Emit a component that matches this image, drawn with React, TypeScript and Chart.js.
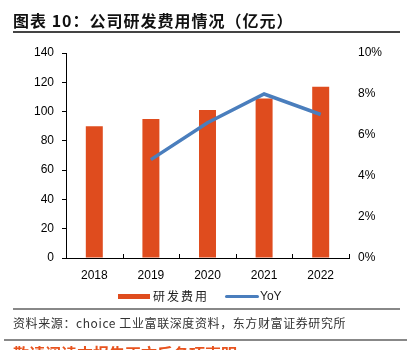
import React, { useEffect, useRef } from "react";
import { Chart, registerables } from "chart.js";

Chart.register(...registerables);

const categories = ["2018", "2019", "2020", "2021", "2022"];
const rdExpense = [90, 95, 101, 109, 117];
const yoy = [null, 4.8, 6.6, 8.0, 7.0];
const leftTicks = [0, 20, 40, 60, 80, 100, 120, 140];
const rightTicks = [0, 2, 4, 6, 8, 10];

const BAR_COLOR = "#DF4C1E";
const LINE_COLOR = "#4A7EBD";
const CJK = '"Noto Sans CJK SC", "Noto Sans", sans-serif';
const LATIN = '"Liberation Sans", Arial, sans-serif';

const innerTicks = {
  id: "innerTicks",
  afterDraw(chart: any) {
    const x = chart.scales.x;
    const ctx = chart.ctx;
    const bottom = chart.chartArea.bottom;
    ctx.save();
    ctx.strokeStyle = "#000";
    ctx.lineWidth = 1;
    for (let i = 0; i <= categories.length; i++) {
      const px = Math.round(x.getPixelForValue(i - 0.5)) + 0.5;
      ctx.beginPath();
      ctx.moveTo(px, bottom);
      ctx.lineTo(px, bottom - 4);
      ctx.stroke();
    }
    ctx.restore();
  },
};

export default function App() {
  const ref = useRef<HTMLCanvasElement>(null);
  useEffect(() => {
    if (!ref.current) return;
    const chart = new Chart(ref.current, {
      type: "bar",
      data: {
        labels: categories,
        datasets: [
          {
            type: "line",
            label: "YoY",
            data: yoy as any,
            yAxisID: "y1",
            borderColor: LINE_COLOR,
            backgroundColor: LINE_COLOR,
            borderWidth: 3.5,
            pointRadius: 0,
            tension: 0,
            order: 0,
          } as any,
          {
            type: "bar",
            label: "研发费用",
            data: rdExpense,
            yAxisID: "y",
            backgroundColor: BAR_COLOR,
            categoryPercentage: 1,
            barPercentage: 0.3,
            order: 1,
          },
        ],
      },
      plugins: [innerTicks],
      options: {
        responsive: false,
        animation: false,
        layout: { padding: { top: 53, left: 0, right: 0, bottom: 0 } },
        plugins: { legend: { display: false }, tooltip: { enabled: false } },
        scales: {
          x: {
            grid: { display: false, drawTicks: false },
            border: { display: true, color: "#000", width: 1 },
            ticks: {
              color: "#000",
              font: { family: LATIN, size: 12 },
              padding: 10,
              maxRotation: 0,
            },
            afterFit(s: any) {
              s.height = 92;
            },
          },
          y: {
            position: "left",
            min: 0,
            max: 140,
            afterBuildTicks(s: any) {
              s.ticks = leftTicks.map((v) => ({ value: v }));
            },
            grid: {
              display: true,
              drawOnChartArea: false,
              drawTicks: true,
              tickLength: 4,
              color: "#000",
            },
            border: { display: true, color: "#000", width: 1 },
            ticks: {
              color: "#000",
              font: { family: LATIN, size: 12 },
              padding: 8,
            },
            afterFit(s: any) {
              s.width = 66;
            },
          },
          y1: {
            position: "right",
            min: 0,
            max: 10,
            afterBuildTicks(s: any) {
              s.ticks = rightTicks.map((v) => ({ value: v }));
            },
            grid: { display: false, drawTicks: false },
            border: { display: false },
            ticks: {
              color: "#000",
              font: { family: LATIN, size: 12 },
              padding: 9,
              callback: (v: any) => v + "%",
            },
            afterFit(s: any) {
              s.width = 58;
            },
          },
        },
      },
    });
    return () => chart.destroy();
  }, []);

  return (
    <div
      style={{
        position: "absolute",
        left: 0,
        top: 0,
        width: 407,
        height: 350,
        overflow: "hidden",
        background: "#fff",
      }}
    >
      <canvas
        ref={ref}
        width={407}
        height={350}
        style={{ position: "absolute", left: 0, top: 0, width: 407, height: 350 }}
      />
      <div
        style={{
          position: "absolute",
          left: 13,
          top: 9,
          fontFamily: CJK,
          fontSize: 16,
          fontWeight: 700,
          letterSpacing: 1,
          color: "#111",
          whiteSpace: "nowrap",
          lineHeight: "22px",
        }}
      >
        图表 10：公司研发费用情况（亿元）
      </div>
      <div
        style={{
          position: "absolute",
          left: 13,
          top: 31,
          width: 387,
          height: 2,
          background: "#444",
        }}
      />
      {/* legend */}
      <div
        style={{
          position: "absolute",
          left: 118,
          top: 294,
          width: 32,
          height: 5,
          background: BAR_COLOR,
        }}
      />
      <div
        style={{
          position: "absolute",
          left: 153,
          top: 287,
          fontFamily: CJK,
          fontSize: 12,
          letterSpacing: 2,
          color: "#222",
          lineHeight: "18px",
          whiteSpace: "nowrap",
        }}
      >
        研发费用
      </div>
      <div
        style={{
          position: "absolute",
          left: 225,
          top: 295,
          width: 34,
          height: 3,
          borderRadius: 1.5,
          background: LINE_COLOR,
        }}
      />
      <div
        style={{
          position: "absolute",
          left: 260,
          top: 287,
          fontFamily: LATIN,
          fontSize: 12,
          color: "#222",
          lineHeight: "18px",
          whiteSpace: "nowrap",
        }}
      >
        YoY
      </div>
      <div
        style={{
          position: "absolute",
          left: 13,
          top: 308,
          width: 387,
          height: 2,
          background: "#888",
        }}
      />
      <div
        style={{
          position: "absolute",
          left: 13,
          top: 314,
          fontFamily: CJK,
          fontSize: 12,
          letterSpacing: 0.6,
          color: "#333",
          lineHeight: "18px",
          whiteSpace: "nowrap",
        }}
      >
        资料来源：choice 工业富联深度资料，东方财富证券研究所
      </div>
      <div
        style={{
          position: "absolute",
          left: 4,
          top: 339,
          width: 403,
          height: 2,
          background: "#888",
        }}
      />
      <div
        style={{
          position: "absolute",
          left: 13,
          top: 343,
          fontFamily: CJK,
          fontSize: 16,
          fontWeight: 700,
          color: "#E8531E",
          lineHeight: "20px",
          whiteSpace: "nowrap",
        }}
      >
        敬请阅读本报告正文后各项声明
      </div>
    </div>
  );
}
